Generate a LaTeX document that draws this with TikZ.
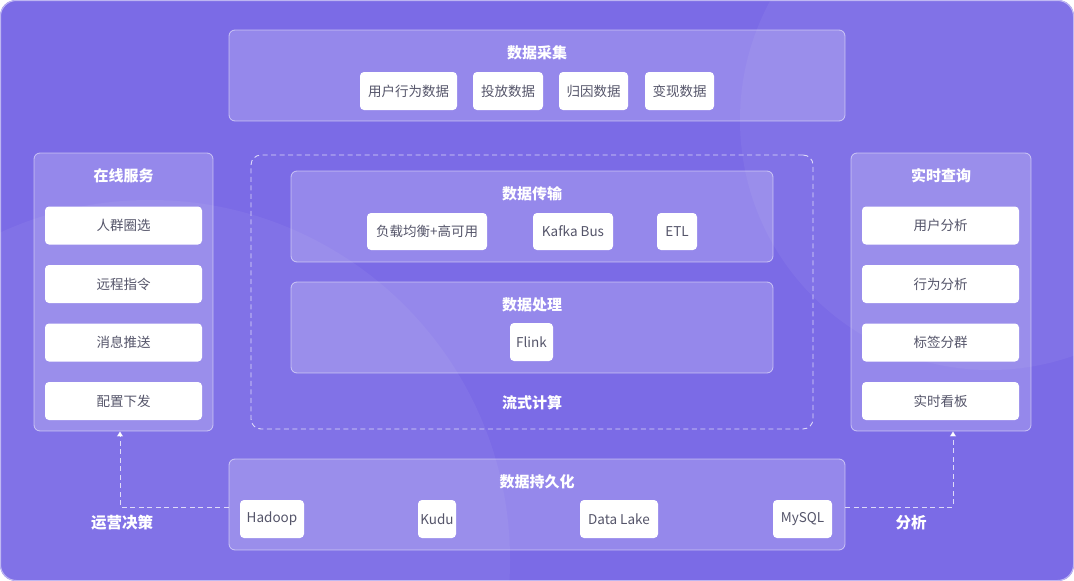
\documentclass[tikz,border=0pt]{standalone}
\usepackage{fontspec}
\setmainfont{Noto Sans CJK SC}
\usetikzlibrary{arrows.meta}
\definecolor{bgpurple}{HTML}{7B6BE6}
\definecolor{boxtext}{HTML}{55556A}
\tikzset{
  x=1pt, y=-1pt,
  panel/.style={draw=white, draw opacity=0.55, fill=white, fill opacity=0.2, text opacity=1, rounded corners=6pt, line width=0.8pt, inner sep=0pt},
  ptitle/.style={text=white, font=\fontsize{15}{17}\selectfont\bfseries, inner sep=0pt},
  item/.style={fill=white, rounded corners=4pt, text=boxtext, font=\fontsize{13.5}{15}\selectfont, inner sep=0pt},
  flow/.style={draw=white, draw opacity=0.75, dashed, dash pattern=on 5pt off 3.5pt, line width=0.9pt},
  conn/.style={flow, -{Triangle[width=6pt,length=5pt,fill=white]}},
  clabel/.style={text=white, font=\fontsize{15.5}{17}\selectfont\bfseries, inner sep=0pt}
}
\begin{document}
\begin{tikzpicture}
\useasboundingbox (0,0) rectangle (1074,581);
\fill[white] (0,0) rectangle (1074,581);
\begin{scope}
\clip[rounded corners=16pt] (0,0) rectangle (1074,581);
\fill[bgpurple] (0,0) rectangle (1074,581);
\fill[white, opacity=0.05] (150,560) circle (360);
\fill[white, opacity=0.05] (990,120) circle (250);
\end{scope}
\draw[white, opacity=0.5, line width=1pt, rounded corners=16pt] (0.5,0.5) rectangle (1073.5,580.5);

% data collection
\node[panel, minimum width=616, minimum height=91] (collect) at (537,75.5) {};
\node[ptitle] (collectT) at (537,53) {数据采集};
\node[item, minimum width=97, minimum height=38] (c1) at (408.5,91) {用户行为数据};
\node[item, minimum width=70, minimum height=38] (c2) at (508,91) {投放数据};
\node[item, minimum width=69, minimum height=38] (c3) at (593.5,91) {归因数据};
\node[item, minimum width=69, minimum height=38] (c4) at (679.5,91) {变现数据};

% online service
\node[panel, minimum width=179, minimum height=278] (online) at (123.5,292) {};
\node[ptitle] (onlineT) at (123.5,176) {在线服务};
\node[item, minimum width=157, minimum height=38] (o1) at (123.5,225.5) {人群圈选};
\node[item, minimum width=157, minimum height=38] (o2) at (123.5,284) {远程指令};
\node[item, minimum width=157, minimum height=38] (o3) at (123.5,342.5) {消息推送};
\node[item, minimum width=157, minimum height=38] (o4) at (123.5,401) {配置下发};

% realtime query
\node[panel, minimum width=180, minimum height=278] (query) at (941,292) {};
\node[ptitle] (queryT) at (941,176) {实时查询};
\node[item, minimum width=157, minimum height=38] (q1) at (940.5,225.5) {用户分析};
\node[item, minimum width=157, minimum height=38] (q2) at (940.5,284) {行为分析};
\node[item, minimum width=157, minimum height=38] (q3) at (940.5,342.5) {标签分群};
\node[item, minimum width=157, minimum height=38] (q4) at (940.5,401) {实时看板};

% stream computing
\node[flow, rounded corners=10pt, minimum width=562, minimum height=274, inner sep=0pt] (stream) at (532,292) {};
\node[ptitle] (streamT) at (532,403) {流式计算};

\node[panel, minimum width=482, minimum height=91] (trans) at (532,216.5) {};
\node[ptitle] (transT) at (532,194) {数据传输};
\node[item, minimum width=120, minimum height=37] (t1) at (427,231.5) {负载均衡+高可用};
\node[item, minimum width=80, minimum height=37] (t2) at (573,231.5) {Kafka Bus};
\node[item, minimum width=40, minimum height=37] (t3) at (677,231.5) {ETL};

\node[panel, minimum width=482, minimum height=91] (proc) at (532,327.5) {};
\node[ptitle] (procT) at (532,305) {数据处理};
\node[item, minimum width=43, minimum height=38] (p1) at (531.5,342) {Flink};

% persistence
\node[panel, minimum width=616, minimum height=91] (persist) at (537,504.5) {};
\node[ptitle] (persistT) at (537,482) {数据持久化};
\node[item, minimum width=64, minimum height=38] (s1) at (272,519) {Hadoop};
\node[item, minimum width=38, minimum height=38] (s2) at (437,519) {Kudu};
\node[item, minimum width=78, minimum height=38] (s3) at (619,519) {Data Lake};
\node[item, minimum width=59, minimum height=38] (s4) at (802.5,519) {MySQL};

% connectors
\coordinate (lturn) at (120,507);
\coordinate (rturn) at (953,507);
\draw[conn] ([yshift=-2.5pt]persist.west) -- (lturn) -- (lturn |- online.south);
\draw[conn] ([yshift=-2.5pt]persist.east) -- (rturn) -- (rturn |- query.south);
\node[clabel] (lblL) at (122,523) {运营决策};
\node[clabel] (lblR) at (911,523) {分析};
\end{tikzpicture}
\end{document}
